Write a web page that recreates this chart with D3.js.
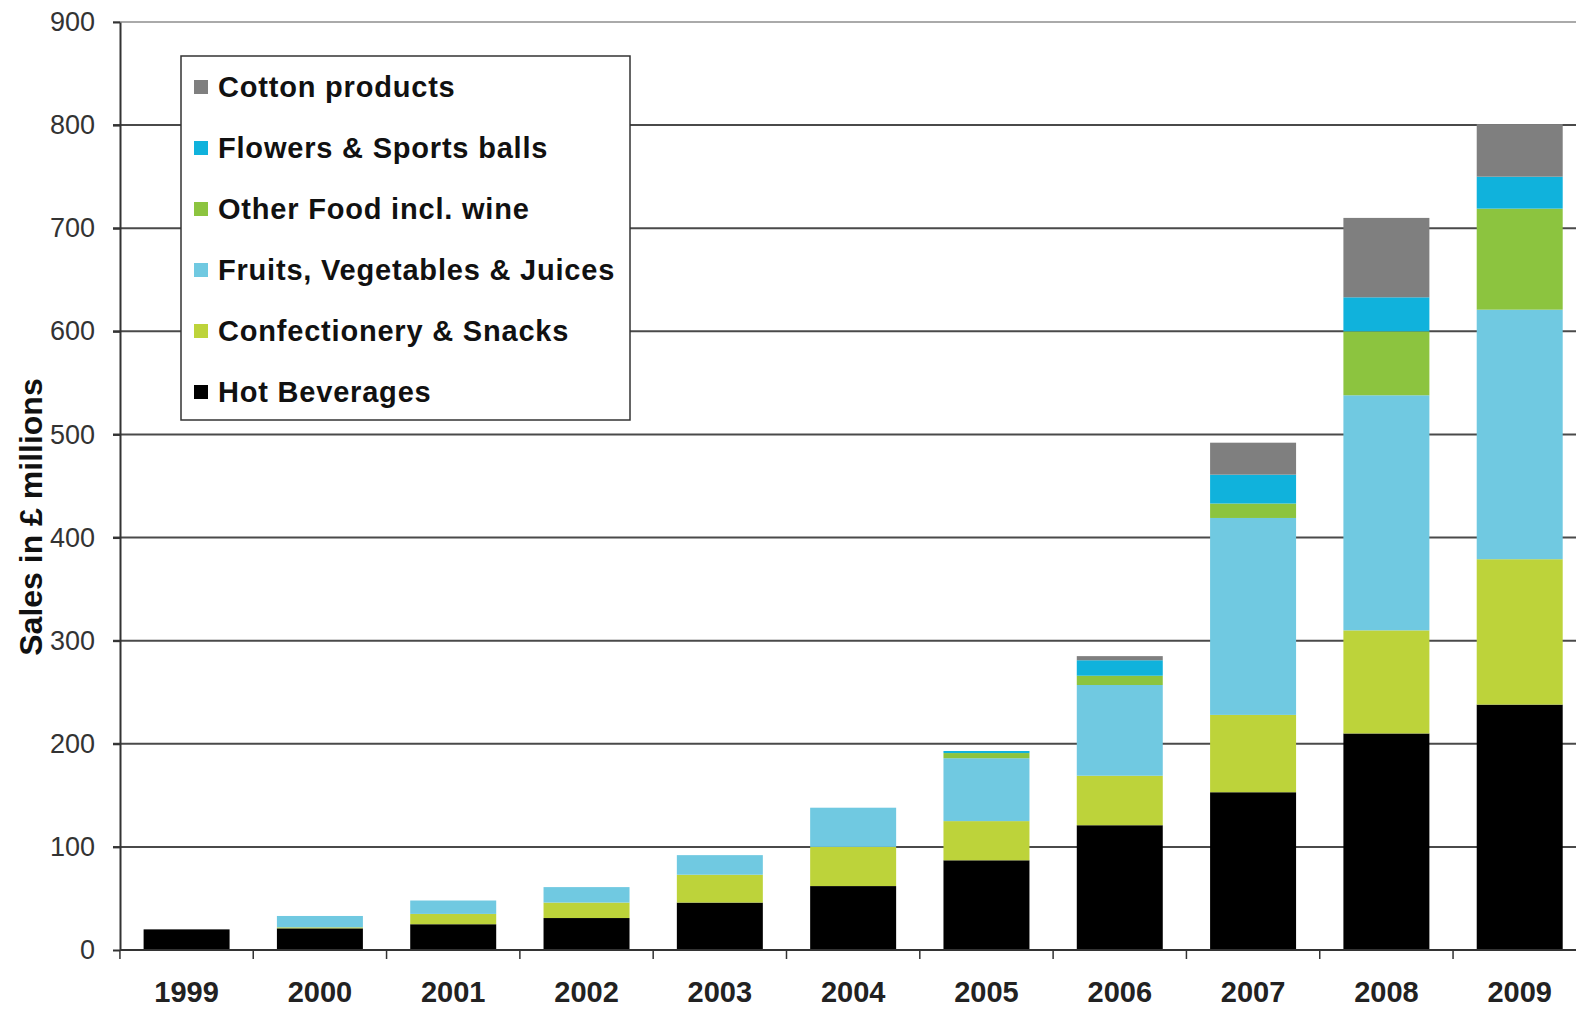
<!DOCTYPE html>
<meta charset="utf-8">
<style>
    body { margin: 0; background: #fff; }
    svg { display: block; font-family: "Liberation Sans", Arial, sans-serif; }
    .grid line { stroke: #4a4a4a; stroke-width: 2px; }
    .axis path, .axis line { stroke: #333; stroke-width: 2px; }
    .axis--y text { font-size: 27px; fill: #333; }
    .axis--x text { font-size: 29px; font-weight: bold; fill: #222; }
    .legend text { font-size: 29px; font-weight: bold; fill: #111; letter-spacing: 0.8px; }
</style>
<svg width="1576" height="1009"></svg>
<script src="https://d3js.org/d3.v7.min.js"></script>
<script>

    var years = ["1999", "2000", "2001", "2002", "2003", "2004", "2005", "2006", "2007", "2008", "2009"];
    var seriesNames = ["Hot Beverages", "Confectionery & Snacks", "Fruits, Vegetables & Juices",
                       "Other Food incl. wine", "Flowers & Sports balls", "Cotton products"];
    var hotBeverages  = [20, 21, 25, 31, 46, 62, 87, 121, 153, 210, 238];
    var confectionery = [0, 1, 10, 15, 27, 38, 38, 48, 75, 100, 141];
    var fruitsVeg     = [0, 11, 13, 15, 19, 38, 61, 88, 191, 228, 242];
    var otherFood     = [0, 0, 0, 0, 0, 0, 5, 9, 14, 62, 98];
    var flowersBalls  = [0, 0, 0, 0, 0, 0, 2, 15, 28, 33, 31];
    var cotton        = [0, 0, 0, 0, 0, 0, 0, 4, 31, 77, 51];
    var yTicks = [0, 100, 200, 300, 400, 500, 600, 700, 800, 900];

    var colors = ["#000000", "#bdd33a", "#70c9e1", "#8cc43f", "#10b2dc", "#7f7f7f"];
    var allSeries = [hotBeverages, confectionery, fruitsVeg, otherFood, flowersBalls, cotton];

    var table = years.map(function (yr, i) {
        var row = {year: yr};
        seriesNames.forEach(function (s, k) { row[s] = allSeries[k][i]; });
        return row;
    });

    var svg = d3.select("svg"),
        plotLeft = 120, plotTop = 22, plotBottom = 950;

    var x = d3.scaleBand()
        .domain(years)
        .range([plotLeft, plotLeft + 133.3 * years.length])
        .paddingInner(0.355)
        .paddingOuter(0.177);

    var y = d3.scaleLinear()
        .domain([0, 900])
        .range([plotBottom, plotTop]);

    // gridlines
    svg.append("g")
        .attr("class", "grid")
        .selectAll("line")
        .data(yTicks.filter(d => d > 0))
        .enter().append("line")
        .attr("x1", plotLeft - 7)
        .attr("x2", 1576)
        .attr("y1", d => y(d))
        .attr("y2", d => y(d))
        .style("stroke", d => d === 900 ? "#aaa" : null);

    var stack = d3.stack().keys(seriesNames)(table);

    svg.append("g")
        .selectAll("g")
        .data(stack)
        .enter().append("g")
        .attr("fill", (d, i) => colors[i])
        .selectAll("rect")
        .data(d => d)
        .enter().append("rect")
        .attr("x", d => x(d.data.year))
        .attr("width", x.bandwidth())
        .attr("y", d => y(d[1]))
        .attr("height", d => y(d[0]) - y(d[1]));

    // y axis
    svg.append("g")
        .attr("class", "axis axis--y")
        .attr("transform", "translate(" + plotLeft + ",0)")
        .call(d3.axisLeft(y).tickValues(yTicks).tickSize(7).tickPadding(18).tickSizeOuter(0));

    // x axis, ticks at category boundaries
    var xg = svg.append("g")
        .attr("class", "axis axis--x")
        .attr("transform", "translate(0," + plotBottom + ")");
    xg.append("line")
        .attr("x1", plotLeft).attr("x2", 1576);
    xg.selectAll(".bt")
        .data(years)
        .enter().append("line")
        .attr("class", "bt")
        .attr("x1", d => x(d) - x.step() * x.paddingInner() / 2)
        .attr("x2", d => x(d) - x.step() * x.paddingInner() / 2)
        .attr("y1", 0).attr("y2", 9)
        .style("stroke-width", "1.5px");
    xg.selectAll("text")
        .data(years)
        .enter().append("text")
        .attr("x", d => x(d) + x.bandwidth() / 2)
        .attr("y", 52)
        .attr("text-anchor", "middle")
        .text(d => d);

    // y title
    svg.append("text")
        .attr("transform", "translate(42,517) rotate(-90)")
        .attr("text-anchor", "middle")
        .style("font-size", "32px")
        .style("font-weight", "bold")
        .style("fill", "#111")
        .text("Sales in £ millions");

    // legend
    var legend = svg.append("g").attr("class", "legend");
    legend.append("rect")
        .attr("x", 181).attr("y", 56)
        .attr("width", 449).attr("height", 364)
        .attr("fill", "#fff")
        .attr("stroke", "#333")
        .attr("stroke-width", 1.5);

    var order = seriesNames.slice().reverse();
    var items = legend.selectAll(".item")
        .data(order)
        .enter().append("g")
        .attr("class", "item")
        .attr("transform", (d, i) => "translate(194," + (87 + i * 61) + ")");
    items.append("rect")
        .attr("x", 0).attr("y", -7)
        .attr("width", 14).attr("height", 14)
        .attr("fill", d => colors[seriesNames.indexOf(d)]);
    items.append("text")
        .attr("x", 24)
        .attr("dy", "0.36em")
        .text(d => d);

</script>
